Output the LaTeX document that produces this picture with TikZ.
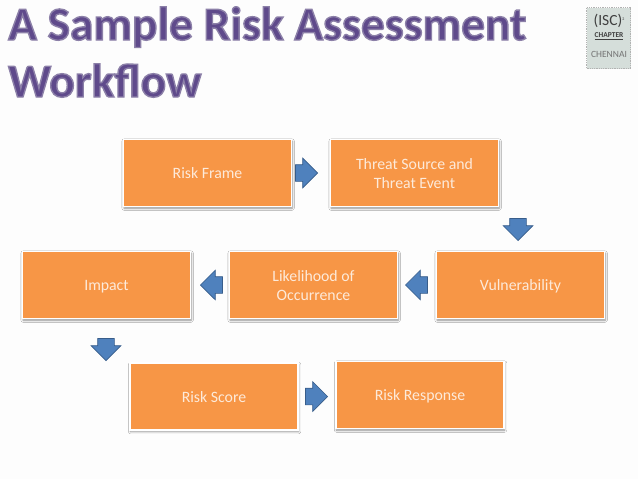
\documentclass[tikz,border=0pt]{standalone}
\usepackage{fontspec}
\setmainfont{Carlito}
\usetikzlibrary{shapes.arrows,shadows.blur,positioning}
\definecolor{pagewhite}{HTML}{FDFDFD}
\definecolor{boxorange}{HTML}{F79646}
\definecolor{boxtext}{HTML}{FDEADA}
\definecolor{arrowblue}{HTML}{4F81BD}
\definecolor{arrowedge}{HTML}{385D8A}
\definecolor{titlepurple}{HTML}{5F4A8B}
\definecolor{logogrey}{HTML}{D5DEDA}
\newcommand\tlift{\rule[-4pt]{0pt}{19pt}}
\newcommand\bevelon{\special{pdf:code q 2 Tr 1.4 w 0.55 0.50 0.66 RG}}
\newcommand\beveloff{\special{pdf:code Q}}
\tikzset{
  x=1pt,y=-1pt,
  riskbox/.style={draw=white,line width=1.8pt,fill=boxorange,minimum width=168pt,minimum height=67pt,
    align=center,text=boxtext,font=\fontsize{15.8}{19}\selectfont,inner sep=0pt,
    blur shadow={shadow blur steps=6,shadow xshift=0.6pt,shadow yshift=-1.6pt,shadow blur radius=2.2pt,shadow opacity=45}},
  arrowbase/.style={single arrow,draw=arrowedge,line width=0.7pt,fill=arrowblue,minimum height=22pt,minimum width=29pt,
    single arrow head extend=6.5pt,single arrow head indent=0pt,anchor=tip},
  harrow/.style={arrowbase,inner xsep=0pt,inner ysep=8pt,shape border rotate=#1},
  varrow/.style={arrowbase,inner ysep=0pt,inner xsep=8pt,shape border rotate=#1},
  titletext/.style={anchor=base west,text=titlepurple,font=\fontsize{47.4}{50}\selectfont\bfseries,inner sep=0pt},
}
\begin{document}
\begin{tikzpicture}
\useasboundingbox (0,0) rectangle (638,479);
\fill[pagewhite] (0,0) rectangle (638,479);
% title
\node[titletext] (title1) at (8,40) {\bevelon A Sample Risk Assessment\beveloff};
\node[titletext] (title2) at (8,97) {\bevelon Workflow\beveloff};
% logo
\node[draw=black!30,densely dotted,line width=0.8pt,fill=logogrey,minimum width=44pt,minimum height=61pt,inner sep=0pt] (logo) at (608.5,38) {};
\node[text=black!75,font=\fontsize{15.5}{15}\selectfont,inner sep=0pt] (isc) at (609,21) {(ISC)\raisebox{5pt}{\fontsize{4}{4}\selectfont 2}};
\node[text=black!75,font=\fontsize{7.5}{8}\selectfont\bfseries,inner sep=0pt] (chapter) at (609,36) {\underline{CHAPTER}};
\node[text=black!55,font=\fontsize{9.5}{8}\selectfont,inner sep=0pt] (chennai) at (609,54) {CHENNAI};
% boxes
\node[riskbox] (frame) at (207.5,173) {\tlift Risk Frame};
\node[riskbox] (threat) at (414.5,173) {\tlift Threat Source and\\\tlift Threat Event};
\node[riskbox] (vuln) at (520.5,285) {\tlift Vulnerability};
\node[riskbox] (like) at (313.5,285) {\tlift Likelihood of\\\tlift Occurrence};
\node[riskbox] (impact) at (106.5,285) {\tlift Impact};
\node[riskbox] (score) at (214,396.5) {\tlift Risk Score};
\node[riskbox] (resp) at (420,395) {\tlift Risk Response};
% block arrows
\node[harrow=0] (a1) at (318,173) {};
\node[varrow=270] (a2) at (518,241) {};
\node[harrow=180] (a3) at (405,285) {};
\node[harrow=180] (a4) at (200,285) {};
\node[varrow=270] (a5) at (106,361) {};
\node[harrow=0] (a6) at (328,396.5) {};
\end{tikzpicture}
\end{document}
